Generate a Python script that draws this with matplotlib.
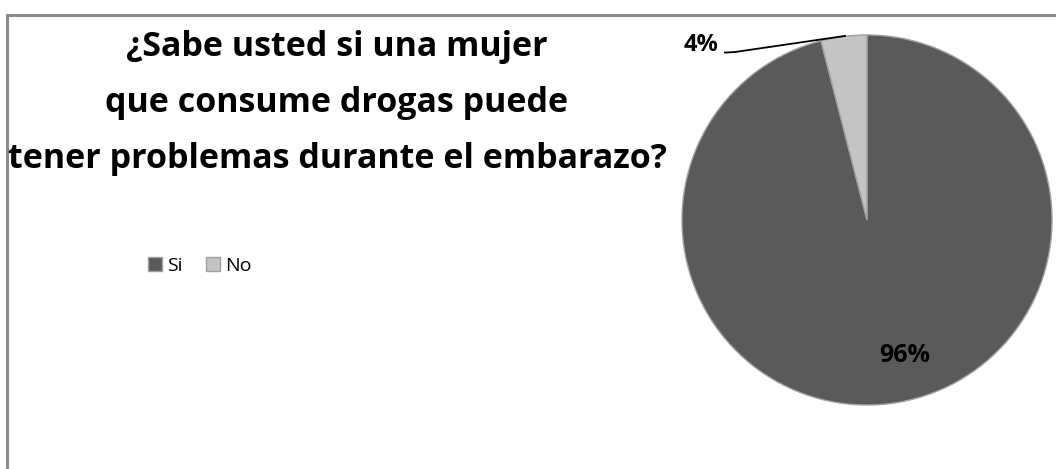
import matplotlib.pyplot as plt
from matplotlib.patches import Rectangle

# survey answers
labels = ['Si', 'No']
shares = [96, 4]
colors = ['#5a5a5a', '#c4c4c4']
title_lines = ['¿Sabe usted si una mujer',
               'que consume drogas puede',
               'tener problemas durante el embarazo?']

W, H = 1056, 469
fig = plt.figure(figsize=(W / 100, H / 100), dpi=100)
plt.rcParams['font.family'] = ['Open Sans', 'DejaVu Sans']

# chart frame (only top and left edge fall inside the image)
fig.patches.append(Rectangle((6.5 / W, -0.1), 1.2, (H - 15) / H + 0.1,
                             transform=fig.transFigure, fill=False,
                             edgecolor='#8c8c8c', linewidth=2.2))

# pie, center (867, 220) radius 185 px
cx, cy, r = 867, 220, 185
ax = fig.add_axes([(cx - r) / W, (H - cy - r) / H, 2 * r / W, 2 * r / H])
wedges, _ = ax.pie(shares, colors=colors, startangle=90, counterclock=False,
                   wedgeprops=dict(edgecolor='#a0a0a0', linewidth=1.0))
ax.set_xlim(-1, 1)
ax.set_ylim(-1, 1)
ax.set_aspect('equal')
ax.axis('off')

# percentage labels
ax.text(0.205, -0.73, f'{shares[0]}%', fontsize=18, fontweight='bold',
        ha='center', va='center')
ax.text(-0.80, 0.946, f'{shares[1]}%', fontsize=17, fontweight='bold',
        ha='right', va='center')
ax.plot([-0.768, -0.714, -0.119], [0.905, 0.908, 0.995], color='black', lw=1.3,
        clip_on=False)

# title
for i, line in enumerate(title_lines):
    fig.text(337 / W, 1 - (47 + i * 56) / H, line, fontsize=24.5,
             fontweight='bold', ha='center', va='center')

# legend
leg = fig.legend(wedges, labels, loc='center', bbox_to_anchor=(200 / W, 1 - 266 / H),
                 ncol=2, frameon=False, fontsize=14, handlelength=0.7,
                 handleheight=0.7, handletextpad=0.3, columnspacing=1.2)

fig.savefig('out.png', dpi=100)
